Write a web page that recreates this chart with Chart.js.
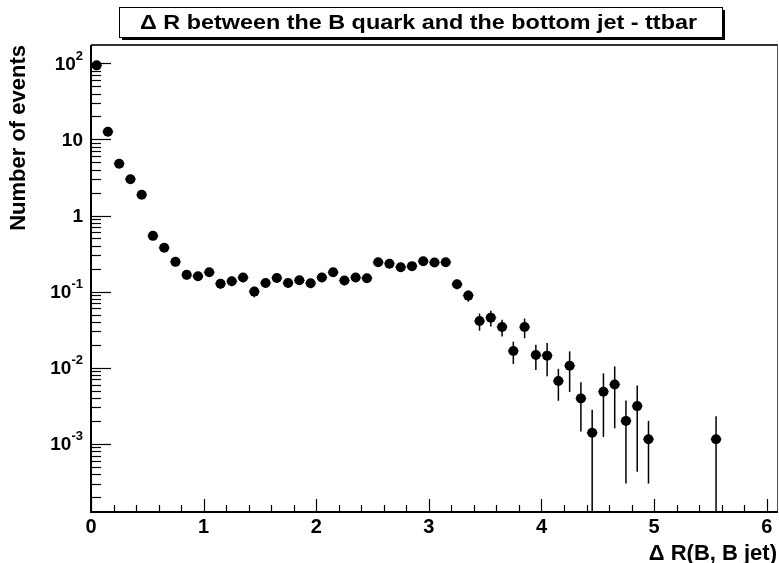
<!DOCTYPE html>
<html lang="en">
<head>
    <meta charset="UTF-8">
    <title>Delta R B quark - bottom jet</title>
    <script src="https://cdn.jsdelivr.net/npm/chart.js"></script>
    <style>
        html, body { margin: 0; padding: 0; background: #fff; overflow: hidden; }
        canvas { display: block; }
    </style>
</head>
<body>
    <canvas id="chart" width="779" height="563"></canvas>

    <script>
        // bin centres (empty bins left out)
        const binCenters = [
            0.05, 0.15, 0.25, 0.35, 0.45, 0.55, 0.65, 0.75, 0.85, 0.95,
            1.05, 1.15, 1.25, 1.35, 1.45, 1.55, 1.65, 1.75, 1.85, 1.95,
            2.05, 2.15, 2.25, 2.35, 2.45, 2.55, 2.65, 2.75, 2.85, 2.95,
            3.05, 3.15, 3.25, 3.35, 3.45, 3.55, 3.65, 3.75, 3.85, 3.95,
            4.05, 4.15, 4.25, 4.35, 4.45, 4.55, 4.65, 4.75, 4.85, 4.95,
            5.55
        ];
        const events = [
            94, 12.6, 4.8, 3.0, 1.87, 0.54, 0.376, 0.246, 0.166, 0.159,
            0.18, 0.127, 0.137, 0.153, 0.1, 0.13, 0.151, 0.13, 0.141, 0.129,
            0.153, 0.18, 0.14, 0.153, 0.15, 0.243, 0.232, 0.209, 0.216, 0.25,
            0.241, 0.243, 0.125, 0.0886, 0.041, 0.0455, 0.0343, 0.0166, 0.0343, 0.0147,
            0.0144, 0.00668, 0.0106, 0.00395, 0.0014, 0.00483, 0.006, 0.002, 0.00313, 0.00115,
            0.00115
        ];
        const errors = [
            0.49, 0.18, 0.11, 0.088, 0.07, 0.037, 0.031, 0.025, 0.021, 0.02,
            0.022, 0.018, 0.019, 0.02, 0.016, 0.018, 0.02, 0.018, 0.019, 0.018,
            0.02, 0.022, 0.019, 0.02, 0.02, 0.025, 0.025, 0.023, 0.024, 0.025,
            0.025, 0.025, 0.018, 0.015, 0.0104, 0.0107, 0.0085, 0.0054, 0.0099, 0.0054,
            0.0067, 0.003, 0.0058, 0.0025, 0.0014, 0.0036, 0.0044, 0.0017, 0.0027, 0.00085,
            0.00115
        ];
        const binHalfWidth = 0.05;

        const xTicks = [0, 1, 2, 3, 4, 5, 6];
        const yTickValues = [0.001, 0.01, 0.1, 1, 10, 100];
        const yTickLabels = [['10', '-3'], ['10', '-2'], ['10', '-1'], ['1', ''], ['10', ''], ['10', '2']];

        const titleText = 'Δ R between the B quark and the bottom jet - ttbar';
        const xTitle = 'Δ R(B, B jet)';
        const yTitle = 'Number of events';

        const FONT = '"Liberation Sans", Arial, sans-serif';

        const rootStyle = {
            id: 'rootStyle',
            beforeDatasetsDraw(chart) {
                const ctx = chart.ctx;
                const xs = chart.scales.x, ys = chart.scales.y;
                const area = chart.chartArea;
                ctx.save();
                for (let i = 0; i < events.length; i++) {
                    const px = xs.getPixelForValue(binCenters[i]);
                    const py = ys.getPixelForValue(events[i]);
                    const hi = ys.getPixelForValue(events[i] + errors[i]);
                    const lowVal = events[i] - errors[i];
                    const lo = lowVal > 0 ? Math.min(ys.getPixelForValue(lowVal), area.bottom) : area.bottom;
                    ctx.strokeStyle = '#000';
                    ctx.lineWidth = 1.5;
                    ctx.beginPath();
                    ctx.moveTo(px, hi);
                    ctx.lineTo(px, lo);
                    ctx.stroke();
                    // x error (bin half width), mostly under the marker
                    ctx.strokeStyle = '#666';
                    ctx.lineWidth = 1;
                    ctx.beginPath();
                    ctx.moveTo(xs.getPixelForValue(binCenters[i] - binHalfWidth), py);
                    ctx.lineTo(xs.getPixelForValue(binCenters[i] + binHalfWidth), py);
                    ctx.stroke();
                }
                ctx.restore();
            },
            afterDraw(chart) {
                const ctx = chart.ctx;
                const xs = chart.scales.x, ys = chart.scales.y;
                const a = chart.chartArea;
                ctx.save();

                // frame
                ctx.strokeStyle = '#333';
                ctx.lineWidth = 2;
                ctx.beginPath();
                ctx.moveTo(a.left, a.top);
                ctx.lineTo(a.right, a.top);
                ctx.stroke();
                ctx.strokeStyle = '#555';
                ctx.lineWidth = 1;
                ctx.beginPath();
                ctx.moveTo(a.right - 0.5, a.top);
                ctx.lineTo(a.right - 0.5, a.bottom);
                ctx.stroke();
                ctx.strokeStyle = '#000';
                ctx.lineWidth = 2;
                ctx.beginPath();
                ctx.moveTo(a.left, a.top);
                ctx.lineTo(a.left, a.bottom);
                ctx.lineTo(a.right, a.bottom);
                ctx.stroke();

                // x ticks
                ctx.lineWidth = 1.2;
                ctx.strokeStyle = '#000';
                for (let v = 0; v <= xs.max + 1e-9; v += 0.2) {
                    const px = Math.round(xs.getPixelForValue(v)) + 0.5;
                    const major = Math.abs(v - Math.round(v)) < 1e-6;
                    ctx.beginPath();
                    ctx.moveTo(px, a.bottom);
                    ctx.lineTo(px, a.bottom - (major ? 13 : 7));
                    ctx.stroke();
                }
                // y ticks
                for (let e = -4; e <= 2; e++) {
                    for (let m = 1; m <= 9; m++) {
                        const v = m * Math.pow(10, e);
                        if (v < ys.min || v > ys.max) continue;
                        const py = Math.round(ys.getPixelForValue(v)) + 0.5;
                        ctx.beginPath();
                        ctx.moveTo(a.left, py);
                        ctx.lineTo(a.left + (m === 1 ? 20 : 10), py);
                        ctx.stroke();
                    }
                }

                // tick labels
                ctx.fillStyle = '#000';
                ctx.font = 'bold 20px ' + FONT;
                ctx.textAlign = 'center';
                ctx.textBaseline = 'top';
                xTicks.forEach(v => {
                    ctx.fillText(String(v), xs.getPixelForValue(v), a.bottom + 5);
                });
                ctx.textBaseline = 'middle';
                yTickValues.forEach((v, i) => {
                    const py = ys.getPixelForValue(v);
                    const [base, sup] = yTickLabels[i];
                    const right = 83;
                    ctx.font = 'bold 13px ' + FONT;
                    const supW = sup ? ctx.measureText(sup).width : 0;
                    ctx.textAlign = 'left';
                    if (sup) ctx.fillText(sup, right - supW, py - 7);
                    ctx.font = 'bold 19px ' + FONT;
                    ctx.textAlign = 'right';
                    ctx.fillText(base, right - supW, py + 1);
                });

                // axis titles
                ctx.font = 'bold 22px ' + FONT;
                ctx.textAlign = 'right';
                ctx.textBaseline = 'alphabetic';
                ctx.fillText(xTitle, a.right - 1, 560);
                ctx.save();
                ctx.translate(25, a.top);
                ctx.rotate(-Math.PI / 2);
                ctx.textAlign = 'right';
                ctx.fillText(yTitle, 0, 0);
                ctx.restore();

                // title box with shadow
                const bx = 119, by = 7, bw = 603, bh = 30;
                ctx.fillStyle = '#000';
                ctx.fillRect(bx + 3, by + 3, bw, bh);
                ctx.fillStyle = '#fff';
                ctx.fillRect(bx, by, bw, bh);
                ctx.strokeStyle = '#000';
                ctx.lineWidth = 1;
                ctx.strokeRect(bx + 0.5, by + 0.5, bw, bh);
                ctx.fillStyle = '#000';
                ctx.font = 'bold 20px ' + FONT;
                ctx.textAlign = 'center';
                ctx.textBaseline = 'middle';
                ctx.save();
                ctx.translate(bx + bw / 2 - 2, by + bh / 2 + 1);
                ctx.scale(557 / ctx.measureText(titleText).width, 1);
                ctx.fillText(titleText, 0, 0);
                ctx.restore();

                ctx.restore();
            }
        };

        const ctx = document.getElementById('chart').getContext('2d');
        new Chart(ctx, {
            type: 'scatter',
            data: {
                datasets: [{
                    label: yTitle,
                    data: binCenters.map((x, i) => ({ x: x, y: events[i] })),
                    backgroundColor: '#000',
                    borderColor: '#000',
                    pointRadius: 5,
                    pointHoverRadius: 5,
                    borderWidth: 0
                }]
            },
            options: {
                responsive: false,
                animation: false,
                layout: { autoPadding: false, padding: { top: 45, right: 1, left: 0, bottom: 0 } },
                scales: {
                    x: {
                        type: 'linear',
                        min: 0,
                        max: 6.1,
                        ticks: { display: false },
                        grid: { display: false },
                        border: { display: false },
                        afterFit: s => { s.height = 51; }
                    },
                    y: {
                        type: 'logarithmic',
                        min: 1.27e-4,
                        max: 174,
                        ticks: { display: false },
                        grid: { display: false },
                        border: { display: false },
                        afterFit: s => { s.width = 91; }
                    }
                },
                plugins: {
                    legend: { display: false },
                    tooltip: { enabled: false }
                }
            },
            plugins: [rootStyle]
        });
    </script>
</body>
</html>
